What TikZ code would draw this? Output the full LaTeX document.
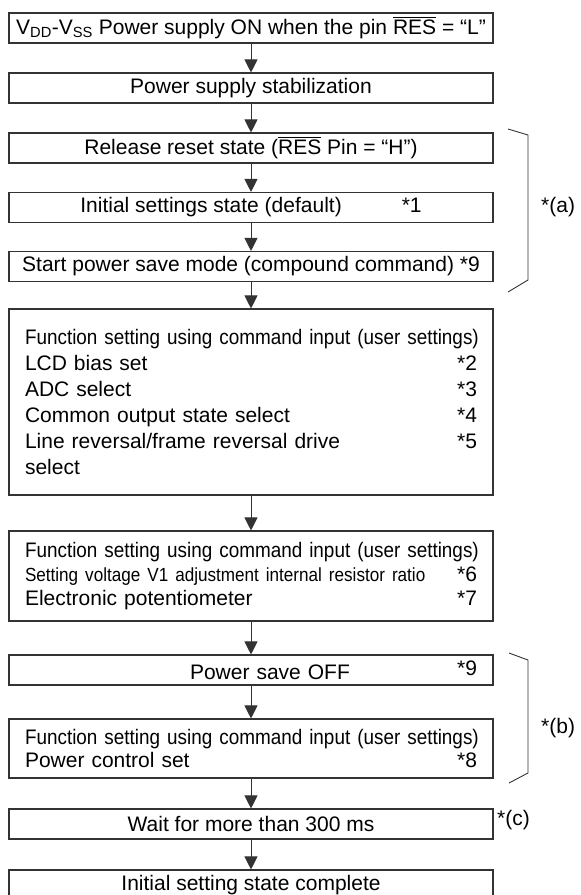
\documentclass[tikz,border=0pt]{standalone}
\usepackage{fontspec}
\setmainfont{Liberation Sans}
\newfontfamily\narrowfont[FakeStretch=0.9]{Liberation Sans}
\usetikzlibrary{arrows.meta}

\definecolor{framegray}{gray}{0.2}

\tikzset{
  stepbox/.style={draw=framegray, line width=1.1pt, minimum width=484pt, minimum height=30pt,
    inner sep=0pt, font=\fontsize{21}{26}\selectfont},
  listbox/.style={stepbox, text width=452pt, inner xsep=16pt, align=left},
  flow/.style={draw=framegray, line width=0.9pt, -{Triangle[length=13pt, width=13pt]}},
  bracket/.style={draw=framegray, line width=0.9pt},
  notetext/.style={anchor=west, inner sep=0pt, font=\fontsize{21}{26}\selectfont}
}

\newcommand{\fnote}[1]{\hfill*#1\hspace*{13pt}}
\newcommand{\resbar}{\vbox{\hrule height 0.9pt\kern 1.2pt\hbox{RES}}}
\newcommand{\userline}{\mbox{\narrowfont Function setting using command input (user settings)}}

\begin{document}
\begin{tikzpicture}[x=1pt, y=-1pt]
  \useasboundingbox (0,0) rectangle (581,895);
  \clip (0,0) rectangle (581,895);

  % steps, top to bottom
  \node[stepbox] (supply) at (251,28) {V\textsubscript{DD}-V\textsubscript{SS} Power supply ON when the pin \resbar{} = “L”};
  \node[stepbox] (stable) at (251,88) {Power supply stabilization};
  \node[stepbox] (release) at (251,148) {Release reset state (\resbar{} Pin = “H”)\hspace{20pt}};
  \node[stepbox] (initial) at (251,207.5) {Initial settings state (default)\hspace{60pt}*1};
  \node[stepbox] (savestart) at (251,266.5) {Start power save mode (compound command) *9};
  \node[listbox, minimum height=186pt] (funca) at (251,402) {\userline\\
    LCD bias set\fnote{2}\\
    ADC select\fnote{3}\\
    Common output state select\fnote{4}\\
    Line reversal/frame reversal drive\fnote{5}\\
    select};
  \node[listbox, minimum height=90pt, font=\fontsize{21}{24}\selectfont] (funcb) at (251,576) {\userline\\
    \mbox{\fontsize{19}{24}\narrowfont Setting voltage V1 adjustment internal resistor ratio}\fnote{6}\\
    Electronic potentiometer\fnote{7}};
  \node[listbox] (saveoff) at (251,670) {\hspace*{165pt}Power save OFF\hfill\raisebox{4pt}{*9}\hspace*{13pt}};
  \node[listbox, minimum height=59pt, font=\fontsize{21}{23}\selectfont] (funcc) at (251,748.5) {\userline\\
    Power control set\fnote{8}};
  \node[stepbox] (wait) at (251,824) {Wait for more than 300 ms};
  \node[stepbox] (done) at (251,885) {Initial setting state complete};

  % connectors
  \draw[flow] (supply) -- (stable);
  \draw[flow] (stable) -- (release);
  \draw[flow] (release) -- (initial);
  \draw[flow] (initial) -- (savestart);
  \draw[flow] (savestart) -- (funca);
  \draw[flow] (funca) -- (funcb);
  \draw[flow] (funcb) -- (saveoff);
  \draw[flow] (saveoff) -- (funcc);
  \draw[flow] (funcc) -- (wait);
  \draw[flow] (wait) -- (done);

  % groups
  \draw[bracket] (508,129) -- (528,135) -- (528,280) -- (508,292);
  \node[notetext] (groupa) at (541,207) {*(a)};
  \draw[bracket] (509,653) -- (528,660) -- (528,773) -- (509,783);
  \node[notetext] (groupb) at (541,728) {*(b)};
  \node[notetext] (groupc) at (497,820) {*(c)};
\end{tikzpicture}
\end{document}
